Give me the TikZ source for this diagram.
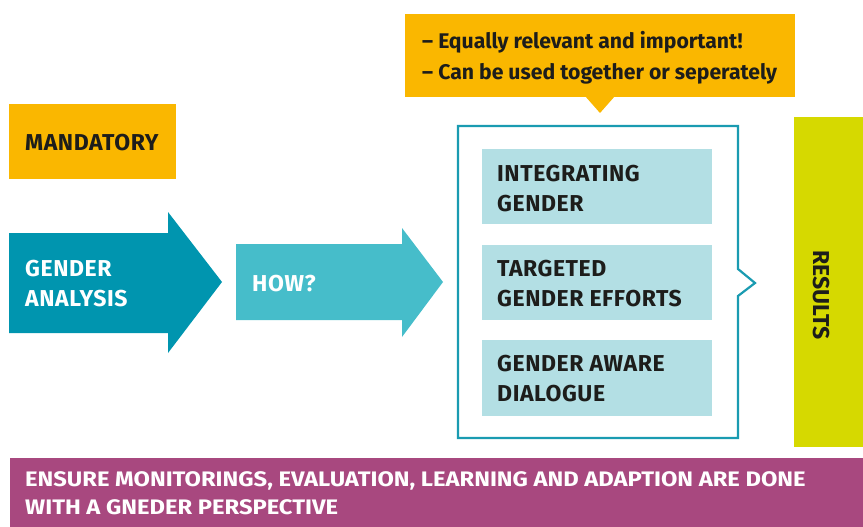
\documentclass[tikz,border=0pt]{standalone}
\usepackage{fontspec}
\setmainfont{Fira Sans}
\definecolor{amber}{HTML}{FAB700}
\definecolor{deepteal}{HTML}{0095AF}
\definecolor{lightteal}{HTML}{46BDCA}
\definecolor{frameteal}{HTML}{1A9BB1}
\definecolor{paleblue}{HTML}{B3DFE4}
\definecolor{lime}{HTML}{D6D900}
\definecolor{plum}{HTML}{A8487F}
\definecolor{ink}{HTML}{1D1D1B}
\newcommand\widen[1]{\scalebox{1.13}[1]{#1}}
\begin{document}
\begin{tikzpicture}[x=1pt,y=-1pt,
  panel/.style={inner sep=0pt,outer sep=0pt,anchor=north west},
  % multi-line labels are placed by the baseline of their last line
  bigtxt/.style={inner sep=0pt,anchor=base west,align=left,
    font=\bfseries\fontsize{23}{29.5}\selectfont\addfontfeatures{LetterSpace=2.5}},
  notetxt/.style={inner sep=0pt,anchor=base west,align=left,
    font=\bfseries\fontsize{21.2}{31}\selectfont,text=ink},
  bartxt/.style={inner sep=0pt,anchor=base west,align=left,
    font=\bfseries\fontsize{21}{28}\selectfont,text=white}]
\useasboundingbox (0,0) rectangle (863,527);

% callout with pointer
\fill[amber] (405,14) rectangle (795,97);
\fill[amber] (585,96) -- (600,113) -- (615,96) -- cycle;
\node[notetxt] (note) at (422,80) {– Equally relevant and important!\\– Can be used together or seperately};

% mandatory label
\node[panel,fill=amber,minimum width=167pt,minimum height=75pt] (mand) at (9,104) {};
\node[bigtxt,text=ink] (mandtxt) at (25,150) {MANDATORY};

% process arrows
\fill[deepteal] (9,233) -- (168,233) -- (168,212) -- (222,282) -- (168,353) -- (168,333) -- (9,333) -- cycle;
\node[bigtxt,text=white] (analysis) at (25,306) {GENDER\\ANALYSIS};
\fill[lightteal] (236,244) -- (402,244) -- (402,228) -- (443,282) -- (402,337) -- (402,320) -- (236,320) -- cycle;
\node[bigtxt,text=white] (how) at (252,291) {HOW?};

% frame around the approaches
\draw[frameteal,line width=2.2pt,line join=miter] (458,126) -- (738,126) -- (738,269) -- (755,283) -- (738,296) -- (738,438) -- (458,438) -- cycle;

\node[panel,fill=paleblue,minimum width=230pt,minimum height=75pt] (b1) at (482,149) {};
\node[panel,fill=paleblue,minimum width=230pt,minimum height=75pt] (b2) at (482,245) {};
\node[panel,fill=paleblue,minimum width=230pt,minimum height=76pt] (b3) at (482,340) {};
\node[bigtxt,text=ink] (t1) at (497,211) {INTEGRATING\\GENDER};
\node[bigtxt,text=ink] (t2) at (497,306) {TARGETED\\GENDER EFFORTS};
\node[bigtxt,text=ink] (t3) at (497,401) {GENDER AWARE\\DIALOGUE};

% results column
\node[panel,fill=lime,minimum width=69pt,minimum height=330pt] (res) at (794,117) {};
\node[inner sep=0pt,rotate=-90,anchor=base,text=ink,font=\bfseries\fontsize{23}{28}\selectfont] (restxt) at (813,295) {RESULTS};

% bottom band
\node[panel,fill=plum,minimum width=853pt,minimum height=69pt] (band) at (10,458) {};
\node[bartxt] (bandtxt) at (25,514) {\widen{ENSURE MONITORINGS, EVALUATION, LEARNING AND ADAPTION ARE DONE}\\\widen{WITH A GNEDER PERSPECTIVE}};
\end{tikzpicture}
\end{document}
